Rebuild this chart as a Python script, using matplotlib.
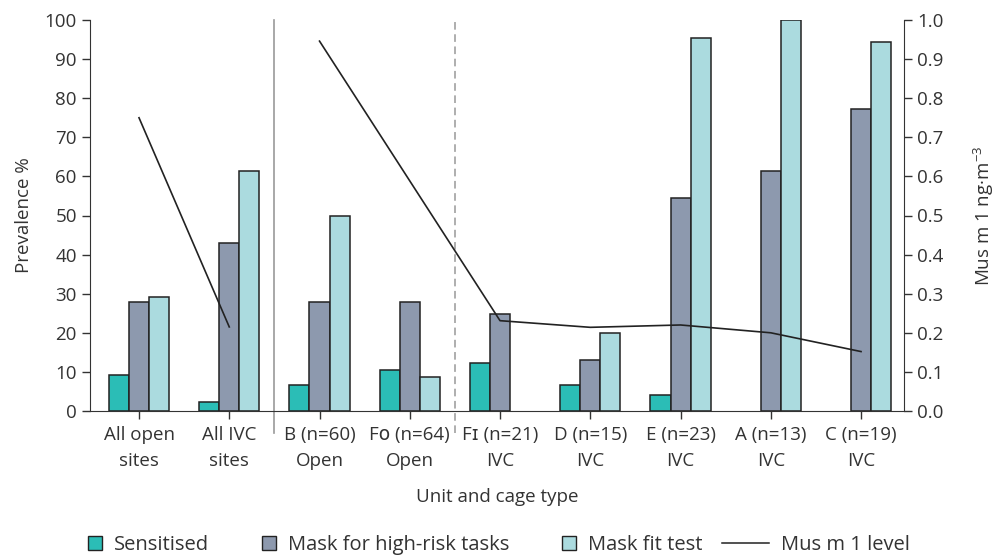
import numpy as np
import pandas as pd
import matplotlib
matplotlib.use('Agg')
import matplotlib.pyplot as plt
from matplotlib.patches import Patch
from matplotlib.lines import Line2D
from matplotlib.legend_handler import HandlerBase

plt.rcParams['font.family'] = ['Open Sans', 'DejaVu Sans']
plt.rcParams['mathtext.fontset'] = 'custom'
plt.rcParams['mathtext.rm'] = 'Open Sans'

categories = ['All open\nsites', 'All IVC\nsites', 'B (n=60)\nOpen', 'F\u1d0f (n=64)\nOpen',
              'F\u026a (n=21)\nIVC', 'D (n=15)\nIVC', 'E (n=23)\nIVC', 'A (n=13)\nIVC',
              'C (n=19)\nIVC']
sensitised = [9.3, 2.2, 6.6, 10.5, 12.4, 6.6, 4.2, 0, 0]
mask_high_risk = [27.8, 42.9, 27.9, 27.8, 24.9, 13.1, 54.4, 61.5, 77.3]
mask_fit_test = [29.2, 61.3, 50.0, 8.7, 0, 19.9, 95.3, 100.0, 94.5]
# Mus m 1 level (right axis); Fo has no value, the line joins B to FI
mus_m1 = [0.75, 0.215, 0.946, np.nan, 0.231, 0.214, 0.22, 0.20, 0.152]

c_sens = '#2bbdb6'
c_mask = '#8d99ae'
c_fit = '#abdbdf'
edge = '#222222'
txt = '#333333'
fs = 13.5

fig = plt.figure(figsize=(9.98, 5.55), dpi=100)
ax = fig.add_axes([90 / 998, 1 - 411 / 555, (904 - 90) / 998, (411 - 20) / 555])

x = np.arange(len(categories))
w = 0.222
for off, vals, col in [(-w, sensitised, c_sens), (0, mask_high_risk, c_mask), (w, mask_fit_test, c_fit)]:
    vals = np.array(vals, dtype=float)
    keep = vals > 0  # empty bars are not drawn
    ax.bar(x[keep] + off, vals[keep], w, color=col, edgecolor=edge, linewidth=1.1)

ax.set_xlim(-0.543, 8.476)
ax.set_ylim(0, 100)
ax.set_yticks(range(0, 101, 10))
ax.set_xticks(x)
ax.set_xticklabels(categories, fontsize=fs, color=txt, linespacing=1.55)
ax.tick_params(axis='both', direction='out', length=6, width=1, colors=txt, labelsize=fs)
ax.tick_params(axis='x', pad=5)
ax.set_ylabel('Prevalence %', fontsize=fs, color=txt, labelpad=8)
ax.set_xlabel('Unit and cage type', fontsize=fs, color=txt, labelpad=13)
for s in ['top', 'right']:
    ax.spines[s].set_visible(False)
for s in ['left', 'bottom']:
    ax.spines[s].set_color(txt)

# separators
ax.plot([1.5, 1.5], [-0.057, 1], transform=ax.get_xaxis_transform(), color='#999999', lw=1.2,
        clip_on=False)
ax.plot([3.5, 3.5], [-0.057, 1], transform=ax.get_xaxis_transform(), color='#999999', lw=1.1,
        ls=(0, (5, 3)), clip_on=False)

ax2 = ax.twinx()
ax2.set_ylim(0, 1.0)
ax2.set_yticks(np.arange(0, 1.01, 0.1))
ax2.set_yticklabels([f'{v:.1f}' for v in np.arange(0, 1.01, 0.1)])
ax2.tick_params(axis='y', direction='out', length=6, width=1, colors=txt, labelsize=fs)
for s in ['top', 'left', 'bottom']:
    ax2.spines[s].set_visible(False)
ax2.spines['right'].set_color(txt)
ax2.set_ylabel('Mus m 1 ng\u00b7m$^{\u22123}$', fontsize=fs, color=txt, labelpad=20)

mus = pd.Series(mus_m1, index=x)
ax2.plot(mus.index[:2], mus.values[:2], color='#222222', lw=1.2)
rest = mus.iloc[2:].dropna()
ax2.plot(rest.index, rest.values, color='#222222', lw=1.2)


class LongLine(HandlerBase):
    def create_artists(self, legend, orig, xdescent, ydescent, width, height, fontsize, trans):
        ln = Line2D([-2.3 * width - xdescent, width - xdescent],
                    [height / 2 - ydescent] * 2, color=orig.get_color(), lw=orig.get_linewidth())
        ln.set_transform(trans)
        return [ln]


line_handle = Line2D([0], [0], color='#222222', lw=1.1, label='Mus m 1 level')
handles = [Patch(facecolor=c_sens, edgecolor=edge, label='Sensitised'),
           Patch(facecolor=c_mask, edgecolor=edge, label='Mask for high-risk tasks'),
           Patch(facecolor=c_fit, edgecolor=edge, label='Mask fit test'),
           line_handle]
fig.legend(handles=handles, loc='center', bbox_to_anchor=(0.5, 0.018), ncol=4,
           frameon=False, fontsize=14.5, handlelength=0.7, handleheight=0.7,
           columnspacing=2.6, handletextpad=0.6, labelcolor=txt,
           handler_map={line_handle: LongLine()})

fig.savefig('out.png', dpi=100)
